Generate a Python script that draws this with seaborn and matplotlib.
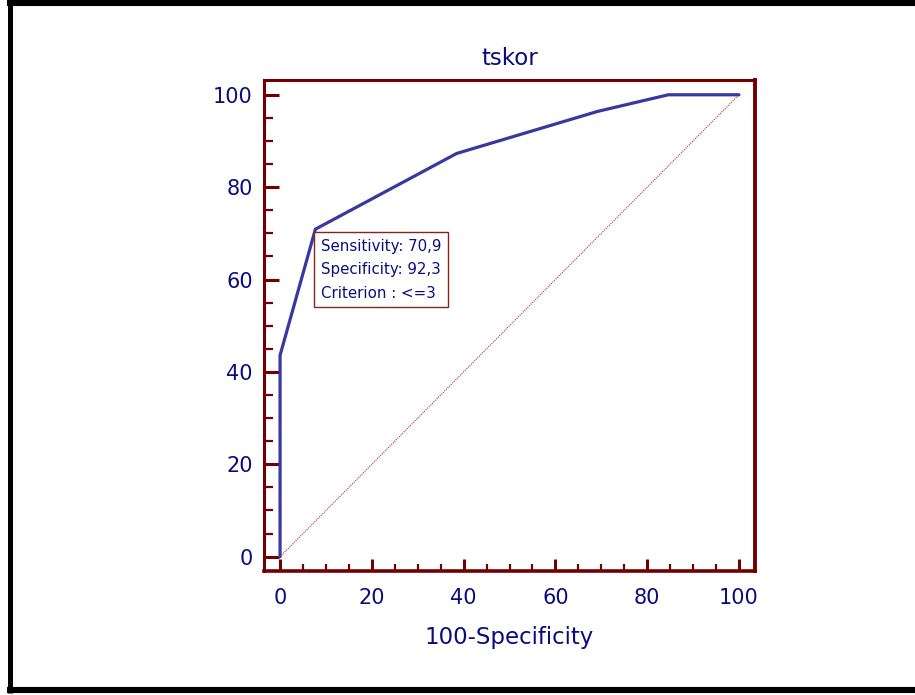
import numpy as np
import pandas as pd
import matplotlib
matplotlib.use("Agg")
import matplotlib.pyplot as plt
from matplotlib.lines import Line2D
from matplotlib.ticker import MultipleLocator
import seaborn as sns

# ROC points (100-Specificity, Sensitivity)
fpr = [0, 0, 7.7, 38.5, 69.2, 84.6, 100]
tpr = [0, 43.6, 70.9, 87.3, 96.4, 100, 100]
diag = [0, 100]
best_idx = 2
title_text = "tskor"
x_label = "100-Specificity"
box_lines = ["Sensitivity: 70,9", "Specificity: 92,3", "Criterion : <=3"]

navy = "#0c0c80"
curve_col = "#3838a0"
spine_col = "#720000"

sns.set_style("white")
plt.rcParams["font.family"] = ["DejaVu Sans"]

fig = plt.figure(figsize=(9.15, 6.95), dpi=100)
ax = fig.add_axes([264 / 915, 1 - 571 / 695, (755 - 264) / 915, (571 - 80) / 695])

roc = pd.DataFrame({"fpr": fpr, "tpr": tpr})
ref = pd.DataFrame({"x": diag, "y": diag})
sns.lineplot(data=ref, x="x", y="y", ax=ax, color="#c03030", lw=0.8,
             linestyle=(0, (1, 1)), sort=False, estimator=None)
sns.lineplot(data=roc, x="fpr", y="tpr", ax=ax, color=curve_col, lw=2.3,
             sort=False, estimator=None, solid_joinstyle="miter")

ax.set_xlim(-3.5, 103.5)
ax.set_ylim(-3.1, 103.2)
ax.xaxis.set_major_locator(MultipleLocator(20))
ax.xaxis.set_minor_locator(MultipleLocator(5))
ax.yaxis.set_major_locator(MultipleLocator(20))
ax.yaxis.set_minor_locator(MultipleLocator(5))

for side, sp in ax.spines.items():
    sp.set_color(spine_col)
    sp.set_linewidth(2.2)
ax.spines["right"].set_linewidth(2.8)
ax.spines["bottom"].set_linewidth(2.6)

ax.tick_params(axis="both", which="both", direction="in", colors=spine_col,
               labelcolor=navy, labelsize=15, bottom=True, left=True,
               top=False, right=False)
ax.tick_params(axis="y", which="major", length=11, width=2.2, pad=8)
ax.tick_params(axis="y", which="minor", length=6.5, width=1.6)
ax.tick_params(axis="x", which="major", length=9, width=2.2, pad=12.5)
ax.tick_params(axis="x", which="minor", length=5, width=1.6)

ax.set_title(title_text, color=navy, fontsize=16.5, pad=11)
ax.set_xlabel(x_label, color=navy, fontsize=16.5, labelpad=12.5)
ax.set_ylabel("")

ax.annotate("\n".join(box_lines), xy=(fpr[best_idx], tpr[best_idx]),
            xytext=(4, -7), textcoords="offset points", ha="left", va="top",
            fontsize=10.8, color=navy, linespacing=1.7,
            bbox=dict(boxstyle="square,pad=0.45", fc="white", ec="#8a2020", lw=1.0))

# outer black frame (top, left, bottom)
fig.add_artist(Line2D([7 / 915, 1], [1 - 3 / 695, 1 - 3 / 695], color="black", lw=4.4,
                      solid_capstyle="butt", transform=fig.transFigure))
fig.add_artist(Line2D([9.5 / 915, 9.5 / 915], [1, 1 - 693 / 695], color="black",
                      lw=3.6, solid_capstyle="butt", transform=fig.transFigure))
fig.add_artist(Line2D([7 / 915, 1], [1 - 690 / 695, 1 - 690 / 695], color="black", lw=4.4,
                      solid_capstyle="butt", transform=fig.transFigure))

fig.savefig("out.png", dpi=100)
